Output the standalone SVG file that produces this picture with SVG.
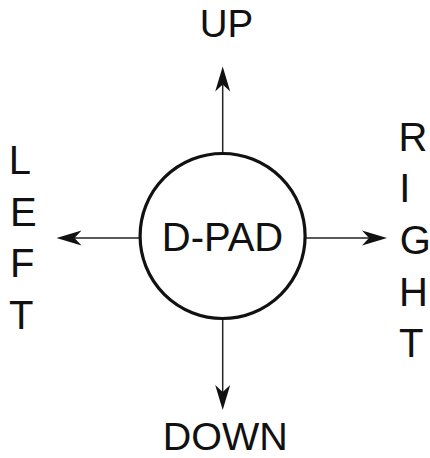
<svg xmlns="http://www.w3.org/2000/svg" xmlns:xlink="http://www.w3.org/1999/xlink" width="430" height="458" viewBox="0 0 430 458">
<style>
.lbl{font-family:"Liberation Sans",Arial,sans-serif;fill:#111;}
.conn{stroke:#222;stroke-width:1.5;fill:none;}
.head{fill:#111;stroke:none;}
</style>
<defs>
<path id="ah" d="M0,0 L-25,-7.5 L-18,0 L-25,7.5 Z"/>
</defs>
<rect width="430" height="458" fill="#fff"/>
<g id="connectors">
<line class="conn" x1="222.7" y1="72" x2="222.7" y2="160"/>
<line class="conn" x1="222.7" y1="312" x2="222.7" y2="405"/>
<line class="conn" x1="62" y1="238" x2="140" y2="238"/>
<line class="conn" x1="305" y1="238" x2="382" y2="238"/>
<use xlink:href="#ah" class="head" transform="translate(222.7,66.5) rotate(-90)"/>
<use xlink:href="#ah" class="head" transform="translate(222.7,410) rotate(90)"/>
<use xlink:href="#ah" class="head" transform="translate(56.5,238) rotate(180)"/>
<use xlink:href="#ah" class="head" transform="translate(387,238)"/>
</g>
<g id="dpad">
<circle cx="222.6" cy="236" r="82.5" fill="#fff" stroke="#111" stroke-width="3.2"/>
<text class="lbl" x="222.5" y="250.7" font-size="40" text-anchor="middle">D-PAD</text>
</g>
<g id="up">
<text class="lbl" x="226.5" y="37.3" font-size="38.5" text-anchor="middle">UP</text>
</g>
<g id="down">
<text class="lbl" x="225.3" y="449.6" font-size="39.5" text-anchor="middle">DOWN</text>
</g>
<g id="left">
<text class="lbl" font-size="40" x="9"><tspan x="8.7" y="174.3">L</tspan><tspan x="10" y="226">E</tspan><tspan x="10" y="276.7">F</tspan><tspan x="9" y="329">T</tspan></text>
</g>
<g id="right">
<text class="lbl" font-size="40" x="399"><tspan x="398.5" y="150.7">R</tspan><tspan x="399.3" y="202.3">I</tspan><tspan x="399.7" y="253.5">G</tspan><tspan x="399" y="305.7">H</tspan><tspan x="399" y="357.3">T</tspan></text>
</g>
</svg>
